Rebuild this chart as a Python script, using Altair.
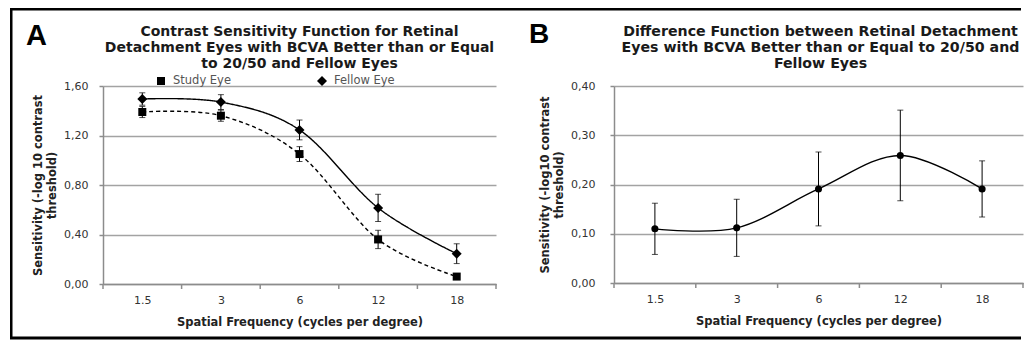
import altair as alt
import pandas as pd

# ---------------- data ----------------
freqs = ["1.5", "3", "6", "12", "18"]
series_names = ["Study Eye", "Fellow Eye"]
study_eye = [1.39, 1.36, 1.05, 0.36, 0.06]
study_err = [0.045, 0.045, 0.06, 0.074, 0.005]
fellow_eye = [1.495, 1.47, 1.245, 0.615, 0.245]
fellow_err = [0.05, 0.06, 0.08, 0.11, 0.08]
difference = [0.11, 0.112, 0.191, 0.259, 0.191]
difference_err = [0.052, 0.058, 0.075, 0.092, 0.057]
y_ticks_a = [0.0, 0.4, 0.8, 1.2, 1.6]
y_ticks_b = [0.0, 0.1, 0.2, 0.3, 0.4]

title_a = ["Contrast Sensitivity Function for Retinal",
           "Detachment Eyes with BCVA Better than or Equal",
           "to 20/50 and Fellow Eyes"]
title_b = ["Difference Function between Retinal Detachment",
           "Eyes with BCVA Better than or Equal to 20/50 and",
           "Fellow Eyes"]
y_title_a = ["Sensitivity (-log 10 contrast", "threshold)"]
y_title_b = ["Sensitivity (-log10 contrast", "threshold)"]
x_title = "Spatial Frequency (cycles per degree)"
panel_a_label = "A"
panel_b_label = "B"

# ---------------- tables ----------------
rows = []
for name, vals, errs in [("Study Eye", study_eye, study_err), ("Fellow Eye", fellow_eye, fellow_err)]:
    for i, (f, v, e) in enumerate(zip(freqs, vals, errs)):
        rows.append({"idx": i, "freq": f, "series": name, "value": v, "lo": v - e, "hi": v + e})
df_a = pd.DataFrame(rows)
df_b = pd.DataFrame({
    "idx": list(range(len(freqs))),
    "freq": freqs,
    "value": difference,
    "lo": [v - e for v, e in zip(difference, difference_err)],
    "hi": [v + e for v, e in zip(difference, difference_err)],
})
legend_df = pd.DataFrame({"series": series_names})
N = len(freqs)
bounds_df = pd.DataFrame({"idx": [i - 0.5 for i in range(N + 1)]})  # category boundaries (tick marks)

WA, HA = 393, 198
WB, HB = 409, 197
FONT = "DejaVu Sans"
GRID = "#a3a3a3"
AXIS_COL = "#8c8c8c"
label_expr = "[" + ",".join("'%s'" % f for f in freqs) + "][datum.value]"
comma_expr = "replace(format(datum.value, '.2f'), '.', ',')"
shape_scale = alt.Scale(domain=series_names, range=["square", "diamond"])
size_scale = alt.Scale(domain=series_names, range=[64, 100])


def x_enc():
    return alt.X(
        "idx:Q",
        scale=alt.Scale(domain=[-0.5, N - 0.5], nice=False, zero=False),
        axis=alt.Axis(
            values=list(range(N)),
            labelExpr=label_expr,
            labelFlush=False,
            labelOverlap=False,
            grid=False,
            ticks=True,
            tickOpacity=0,
            tickSize=5,
            labelPadding=5,
            titlePadding=11,
        ),
        title=x_title,
    )


def y_enc(field, domain, ticks, title, lpad):
    return alt.Y(
        f"{field}:Q",
        scale=alt.Scale(domain=domain, nice=False, zero=True),
        axis=alt.Axis(
            values=ticks,
            labelExpr=comma_expr,
            grid=True,
            tickSize=4,
            labelPadding=lpad,
            titlePadding=6,
            titleLineHeight=14.5,
        ),
        title=title,
    )


def deco_text(text, x, y, **kw):
    return alt.Chart().mark_text(**kw).encode(x=alt.value(x), y=alt.value(y), text=alt.value(text))


def band_ticks(X, H):
    return alt.Chart(bounds_df).mark_rule(color=AXIS_COL, strokeWidth=1.5).encode(
        x=X, y=alt.value(H), y2=alt.value(H + 5))


# ---------------- panel A ----------------
XA = x_enc()
YA = lambda f: y_enc(f, [0, 1.6], y_ticks_a, y_title_a, 11)

lines_a = alt.Chart(df_a).mark_line(interpolate="cardinal", color="black", strokeWidth=1.4).encode(
    x=XA, y=YA("value"),
    strokeDash=alt.StrokeDash("series:N", scale=alt.Scale(domain=series_names, range=[[4, 3], [1, 0]]), legend=None),
    detail="series:N",
)
err_a = alt.Chart(df_a).mark_rule(color="black", strokeWidth=1).encode(x=XA, y=YA("lo"), y2="hi:Q")
cap_lo_a = alt.Chart(df_a).mark_tick(orient="horizontal", size=6, thickness=1, color="black").encode(x=XA, y=YA("lo"))
cap_hi_a = alt.Chart(df_a).mark_tick(orient="horizontal", size=6, thickness=1, color="black").encode(x=XA, y=YA("hi"))
points_a = alt.Chart(df_a).mark_point(filled=True, color="black", opacity=1).encode(
    x=XA, y=YA("value"),
    shape=alt.Shape("series:N", scale=shape_scale, legend=None),
    size=alt.Size("series:N", scale=size_scale, legend=None),
)
main_a = alt.layer(band_ticks(XA, HA), lines_a, err_a, cap_lo_a, cap_hi_a, points_a)

# legend (series names placed by a point scale of their own)
LX = alt.X("series:N", scale=alt.Scale(type="point", domain=series_names, range=[58, 219], padding=0), axis=None)
legend_sym = alt.Chart(legend_df).mark_point(filled=True, color="black", opacity=1).encode(
    x=LX, y=alt.value(-5),
    shape=alt.Shape("series:N", scale=shape_scale, legend=None),
    size=alt.Size("series:N", scale=size_scale, legend=None),
)
legend_txt = alt.Chart(legend_df).mark_text(
    align="left", baseline="middle", dx=12, font=FONT, fontSize=11.5, color="#555555").encode(
    x=LX, y=alt.value(-5), text="series:N")
legend_a = alt.layer(legend_sym, legend_txt)

title_text_a = deco_text(title_a, WA / 2, -50.5, font=FONT, fontSize=14, fontWeight="bold", color="#1a1a1a",
                         align="center", baseline="alphabetic", lineHeight=16.25)
label_a = deco_text(panel_a_label, -77, -41, font="Liberation Sans", fontSize=29, fontWeight="bold",
                    color="black", align="left", baseline="alphabetic")
border_left = alt.Chart().mark_rule(color="black", strokeWidth=2.5).encode(
    x=alt.value(-91.75), y=alt.value(-76.75), y2=alt.value(252))
border_top = alt.Chart().mark_rule(color="black", strokeWidth=2.5).encode(
    x=alt.value(-93), x2=alt.value(918), y=alt.value(-76.75))
border_bottom = alt.Chart().mark_rule(color="black", strokeWidth=3).encode(
    x=alt.value(-93), x2=alt.value(918), y=alt.value(252))
deco_a = alt.layer(border_left, border_top, border_bottom, title_text_a, label_a)

panel_a = alt.layer(main_a, legend_a, deco_a).resolve_scale(x="independent").properties(width=WA, height=HA)

# ---------------- panel B ----------------
XB = x_enc()
YB = lambda f: y_enc(f, [0, 0.4], y_ticks_b, y_title_b, 15)

line_b = alt.Chart(df_b).mark_line(interpolate="cardinal", color="black", strokeWidth=1.4).encode(x=XB, y=YB("value"))
err_b = alt.Chart(df_b).mark_rule(color="black", strokeWidth=1).encode(x=XB, y=YB("lo"), y2="hi:Q")
cap_lo_b = alt.Chart(df_b).mark_tick(orient="horizontal", size=6, thickness=1, color="black").encode(x=XB, y=YB("lo"))
cap_hi_b = alt.Chart(df_b).mark_tick(orient="horizontal", size=6, thickness=1, color="black").encode(x=XB, y=YB("hi"))
points_b = alt.Chart(df_b).mark_circle(color="black", opacity=1, size=50).encode(x=XB, y=YB("value"))
title_text_b = deco_text(title_b, 206.5, -50.5, font=FONT, fontSize=14.2, fontWeight="bold", color="#1a1a1a",
                         align="center", baseline="alphabetic", lineHeight=16.3)
label_b = deco_text(panel_b_label, -85, -43, font="Liberation Sans", fontSize=28, fontWeight="bold",
                    color="black", align="left", baseline="alphabetic")

panel_b = alt.layer(
    band_ticks(XB, HB), line_b, err_b, cap_lo_b, cap_hi_b, points_b, title_text_b, label_b,
).properties(width=WB, height=HB)

chart = alt.hconcat(panel_a, panel_b, spacing=612 - (101 + WA), bounds="flush").properties(
    padding=0
).configure(font=FONT).configure_view(stroke=None).configure_axis(
    labelFont=FONT, labelFontSize=11, labelColor="#333333",
    titleFont=FONT, titleFontSize=11.5, titleFontWeight="bold", titleColor="#222222",
    domainColor=AXIS_COL, domainWidth=1.5, tickColor=AXIS_COL, tickWidth=1.5,
    gridColor=GRID, gridWidth=1.5,
)

chart.save("out.html", embed_options={"renderer": "svg", "actions": False})
